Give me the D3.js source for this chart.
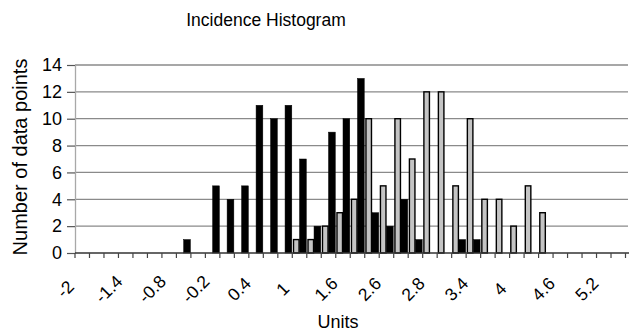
<!DOCTYPE html>
<html>
<head>
<meta charset="utf-8">
<script src="https://cdn.jsdelivr.net/npm/d3@7"></script>
<style>
  body { margin: 0; background: #fff; }
  text { font-family: "Liberation Sans", Arial, sans-serif; fill: #000; }
</style>
</head>
<body>
<div id="chart"></div>
<script>
// bins (category axis) and counts
const bins = ["-2","-1.8","-1.6","-1.4","-1.2","-1","-0.8","-0.6","-0.4","-0.2",
  "0","0.2","0.4","0.6","0.8","1","1.2","1.4","1.6","1.8",
  "2","2.2","2.4","2.6","2.8","3","3.2","3.4","3.6","3.8",
  "4","4.2","4.4","4.6","4.8","5","5.2","5.4"];

// labels printed under every third bin, as they appear
const xTickLabels = ["-2","-1.4","-0.8","-0.2","0.4","1","1.6","2.6","2.8","3.4","4","4.6","5.2"];

const grayCounts = [0,0,0,0,0,0,0,0,0,0,
  0,0,0,0,0,1,1,2,3,4,
  10,5,10,7,12,12,5,10,4,4,
  2,5,3,0,0,0,0,0];

const blackCounts = [0,0,0,0,0,0,0,1,0,5,
  4,5,11,10,11,7,2,9,10,13,
  3,2,4,1,0,0,1,1,0,0,
  0,0,0,0,0,0,0,0];

const yTicks = [0, 2, 4, 6, 8, 10, 12, 14];
const series = ["gray", "black"];

const W = 637, H = 333;
const plotL = 75, plotR = 625.5, plotT = 65, plotB = 253;

const svg = d3.select("#chart").append("svg")
  .attr("width", W)
  .attr("height", H);

const x = d3.scaleBand()
  .domain(bins)
  .range([plotL, plotR])
  .paddingInner(0.07)
  .paddingOuter(0.035);

const xs = d3.scaleBand()
  .domain(series)
  .range([0, x.bandwidth()]);

const y = d3.scaleLinear()
  .domain([0, 14])
  .range([plotB, plotT]);

// grid lines
svg.append("g")
  .selectAll("line")
  .data(yTicks.filter(d => d > 0))
  .enter()
  .append("line")
  .attr("x1", plotL)
  .attr("x2", 628)
  .attr("y1", d => y(d))
  .attr("y2", d => y(d))
  .attr("stroke", "#8a8a8a")
  .attr("stroke-width", 1.3);

// y axis
const yAxis = svg.append("g")
  .attr("transform", `translate(${plotL},0)`)
  .call(d3.axisLeft(y).tickValues(yTicks).tickSize(8).tickPadding(5).tickSizeOuter(0));
yAxis.select(".domain").attr("stroke", "#a8a8a8").attr("stroke-width", 1.3);
yAxis.selectAll(".tick line").attr("stroke", "#555").attr("stroke-width", 1.2);
yAxis.selectAll(".tick text")
  .style("font-size", "18px")
  .style("font-family", "'Liberation Sans', Arial, sans-serif");

// bars
const rows = bins.map((b, i) => ({bin: b, gray: grayCounts[i], black: blackCounts[i]}));

const groups = svg.append("g")
  .selectAll("g")
  .data(rows)
  .enter()
  .append("g")
  .attr("transform", d => `translate(${x(d.bin)},0)`);

groups.selectAll("rect")
  .data(d => series.map(s => ({s: s, v: d[s]})).filter(e => e.v > 0))
  .enter()
  .append("rect")
  .attr("x", d => xs(d.s) + (d.s === "gray" ? 0.7 : 0))
  .attr("width", d => xs.bandwidth() - (d.s === "gray" ? 1.2 : 0))
  .attr("y", d => y(d.v))
  .attr("height", d => plotB - y(d.v))
  .attr("fill", d => d.s === "gray" ? "#c4c4c4" : "#000")
  .attr("stroke", "#000")
  .attr("stroke-width", d => d.s === "gray" ? 1.4 : 0.5);

// x axis line and tick marks at bin edges
const step = x.step();
const edges = bins.map(b => x(b) - step * x.paddingInner() / 2);
edges.push(edges[edges.length - 1] + step);

svg.append("line")
  .attr("x1", plotL)
  .attr("x2", 629)
  .attr("y1", plotB)
  .attr("y2", plotB)
  .attr("stroke", "#333")
  .attr("stroke-width", 1.3);

svg.append("g")
  .selectAll("line")
  .data(edges)
  .enter()
  .append("line")
  .attr("x1", d => d)
  .attr("x2", d => d)
  .attr("y1", plotB)
  .attr("y2", plotB + 5)
  .attr("stroke", "#444")
  .attr("stroke-width", 1.2);

// rotated labels under every third bin
svg.append("g")
  .selectAll("text")
  .data(xTickLabels)
  .enter()
  .append("text")
  .attr("transform", (d, i) => {
    const cx = x(bins[i * 3]) + x.bandwidth() / 2 - 17;
    return `translate(${cx},${289}) rotate(-45)`;
  })
  .attr("text-anchor", "middle")
  .attr("dy", "0.35em")
  .style("font-size", "17.5px")
  .text(d => d);

// titles
svg.append("text")
  .attr("x", 266)
  .attr("y", 26)
  .attr("text-anchor", "middle")
  .style("font-size", "17.5px")
  .text("Incidence Histogram");

svg.append("text")
  .attr("x", 338)
  .attr("y", 328)
  .attr("text-anchor", "middle")
  .style("font-size", "18px")
  .text("Units");

svg.append("text")
  .attr("transform", "translate(27,157) rotate(-90)")
  .attr("text-anchor", "middle")
  .style("font-size", "20px")
  .text("Number of data points");
</script>
</body>
</html>
